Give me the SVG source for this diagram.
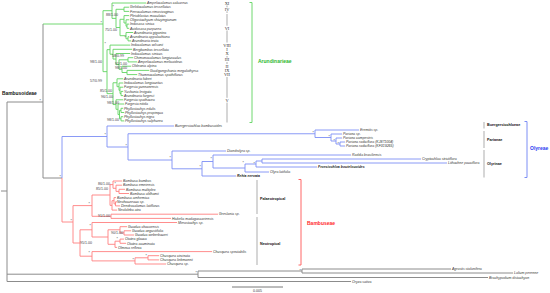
<svg xmlns="http://www.w3.org/2000/svg" width="550" height="293" viewBox="0 0 550 293">
<style>
.tx{font-family:"Liberation Sans",Arial,sans-serif;font-size:3.5px;font-style:italic;fill:#333}
.txb{font-family:"Liberation Sans",Arial,sans-serif;font-size:3.5px;font-style:italic;font-weight:bold;fill:#222}
.sp{font-family:"Liberation Sans",Arial,sans-serif;font-size:3.6px;fill:#444;text-anchor:end}
.rn{font-family:"Liberation Serif","Times New Roman",serif;font-size:4.4px;fill:#333;text-anchor:middle}
.lb{font-family:"Liberation Sans",Arial,sans-serif;font-weight:bold;font-size:3.7px;fill:#111}
.tribe{font-family:"Liberation Sans",Arial,sans-serif;font-weight:bold;font-size:5px}
.g{stroke:#62d462;fill:none;stroke-width:0.9}
.b{stroke:#7d8ef5;fill:none;stroke-width:0.9}
.r{stroke:#ff8080;fill:none;stroke-width:0.9}
.k{stroke:#8c8c8c;fill:none;stroke-width:1}
.bar{stroke:#8a8a8a;fill:none;stroke-width:0.7}
</style>
<rect width="550" height="293" fill="#fff"/>
<g id="connectors">
<path class="k" d="M1,191H7M7,102V281.5M7,102H43M43,24V178M43,178H62M7,274.2H198M198,271V277.5M198,271H302M302,269V273M302,269H451M302,273H513M198,277.5H488M7,281.5H351"/>
<path class="g" d="M43,24H103M103,10.7V71.65M103,10.7H112M112,3V18.4M112,3H146.2M112,18.4H116M116,9.3V27.5M116,9.3H124M124,7.2V11.4M124,7.2H129.2M124,11.4H129.2M116,27.5H120M120,19.3V35.7M120,19.3H124M124,15.6V23M124,15.6H129.2M124,23H126M126,19.8V26.2M126,19.8H129.2M126,26.2H127M127,24.1V28.3M127,24.1H129.2M127,28.3H129.2M120,35.7H126M126,32.5V38.8M126,32.5H133.2M126,38.8H128M128,36.7V40.9M128,36.7H129.2M128,40.9H131.2M103,71.65H107M107,49.65V93.65M107,49.65H110M110,45.1V54.2M110,45.1H130.2M110,54.2H113M113,49.3V59.05M113,49.3H132.2M113,59.05H116M116,53.5V64.6M116,53.5H130.2M116,64.6H119M119,59.8V69.35M119,59.8H128M128,57.7V61.9M128,57.7H133.2M128,61.9H137.2M119,69.35H122M122,66.2V72.5M122,66.2H131.2M122,72.5H127M127,70.4V74.6M127,70.4H149.2M127,74.6H137.2M107,93.65H113M113,82.75V104.55M113,82.75H117M117,78.8V86.7M117,78.8H123.2M117,86.7H119M119,83V90.35M119,83H123.2M119,90.35H120M120,87.2V93.5M120,87.2H123.2M120,93.5H121M121,91.4V95.6M121,91.4H123.2M121,95.6H123.2M113,104.55H116M116,99.8V109.3M116,99.8H123.2M116,109.3H118M118,104V114.6M118,104H124.2M118,114.6H119.5M119.5,110.4V118.8M119.5,110.4H121M121,108.3V112.5M121,108.3H123.2M121,112.5H124.2M119.5,118.8H121M121,116.7V120.9M121,116.7H123.2M121,120.9H124.2"/>
<path class="b" d="M62,136.5V178M62,136.5H107M107,126V147M107,126H174M107,147H128M128,133.75V160M128,133.75H315M315,130V137.5M315,130H359M315,137.5H331M331,134V141M331,134H342M331,141H336M336,138V144M336,138H342M336,144H340M340,142V146M340,142H345M340,146H345M128,160H172M172,151V168.8M172,151H226M172,168.8H202M202,161.5V176M202,176H236M202,161.5H213M213,155V168M213,155H351M213,168H245M245,164V172M245,172H269M245,164H256M256,161V167M256,167H317M256,161H262M262,159V163M262,159H421M262,163H447"/>
<path class="r" d="M62,178V222M62,222H73M73,205.6V243M73,205.6H92M92,195V216.3M92,195H110M110,184.6V205.4M110,184.6H113M113,181V188.3M113,181H122M113,188.3H116M116,185.2V191.4M116,185.2H122M116,191.4H119M119,189.3V193.5M119,189.3H125M119,193.5H129M110,205.4H112M112,200.7V210.1M112,210.1H117M112,200.7H114M114,197.6V203.9M114,197.6H116M114,203.9H115.5M115.5,201.8V205.9M115.5,201.8H117M115.5,205.9H120M92,216.3H111M111,214.2V218.4M111,214.2H218M111,218.4H171M73,243H80M80,229.8V256.2M80,229.8H92M92,222.5V237M92,222.5H177M92,237H108M108,229.8V244.3M108,229.8H120M120,226.7V232.9M120,226.7H127M120,232.9H124M124,230.8V235M124,230.8H131M124,235H134M108,244.3H115M115,241.2V247.4M115,247.4H117M115,241.2H120M120,239.1V243.3M120,239.1H124M120,243.3H126M80,256.2H92M92,251.6V260.9M92,251.6H212M92,260.9H135M135,257.8V264M135,264H166M135,257.8H148M148,255.7V259.9M148,255.7H159M148,259.9H159"/>
<path class="bar" d="M227,5.5V7.3M227,11.3V13M227,14V25.7M227,30.5V42.5M227,56V57.6M227,62V64M227,77V97.8M227,102.6V122.5M484,122V128.5M484,131V148M484,150V177.5M257,180V214M257,217V265"/>
<path stroke="#6fd86f" fill="none" stroke-width="1" d="M249.5,2.5H252V122.5H249.5"/>
<path stroke="#7d8ef5" fill="none" stroke-width="1" d="M524.5,121.5H527V177.5H524.5"/>
<path stroke="#ff6666" fill="none" stroke-width="1" d="M298.5,179.5H301V265H298.5"/>
<path stroke="#555" fill="none" stroke-width="0.8" d="M232,287H283"/>
</g>
<g id="supports">
<text class="sp" x="41" y="101.5">*</text>
<text class="sp" x="102" y="23.5">*</text>
<text class="sp" x="114" y="7.5">*</text>
<text class="sp" x="118" y="16.2">88/1.00</text>
<text class="sp" x="117" y="31.2">75/1.00</text>
<text class="sp" x="126" y="38.5">*</text>
<text class="sp" x="106" y="44.5">*</text>
<text class="sp" x="124" y="57.2">58/0.99</text>
<text class="sp" x="102" y="63.2">98/1.00</text>
<text class="sp" x="127" y="65.2">91/1.00</text>
<text class="sp" x="127" y="69.2">98/1.00</text>
<text class="sp" x="102" y="82.2">57/0.99</text>
<text class="sp" x="112" y="92.2">85/1.00</text>
<text class="sp" x="113" y="98.2">96/1.00</text>
<text class="sp" x="119" y="104.2">98/1.00</text>
<text class="sp" x="119" y="121.2">98/1.00</text>
<text class="sp" x="106" y="135.5">*</text>
<text class="sp" x="127" y="146.5">*</text>
<text class="sp" x="171" y="158.5">*</text>
<text class="sp" x="314" y="133.5">*</text>
<text class="sp" x="330" y="137.5">*</text>
<text class="sp" x="335" y="141.5">*</text>
<text class="sp" x="339" y="144.5">*</text>
<text class="sp" x="212" y="159.5">*</text>
<text class="sp" x="201" y="167.5">*</text>
<text class="sp" x="244" y="163.5">*</text>
<text class="sp" x="255" y="164.5">*</text>
<text class="sp" x="61" y="178">*</text>
<text class="sp" x="72" y="222">*</text>
<text class="sp" x="90" y="204.5">*</text>
<text class="sp" x="110" y="185.2">86/1.00</text>
<text class="sp" x="108" y="190.2">85/1.00</text>
<text class="sp" x="116" y="184.5">*</text>
<text class="sp" x="110" y="217.2">91/1.00</text>
<text class="sp" x="91" y="226.5">*</text>
<text class="sp" x="123" y="234.2">90/1.00</text>
<text class="sp" x="118" y="239.5">*</text>
<text class="sp" x="92" y="244.2">95/1.00</text>
<text class="sp" x="90" y="253.5">*</text>
<text class="sp" x="134" y="260.5">*</text>
<text class="sp" x="147" y="256.5">*</text>
<text class="sp" x="197" y="274">*</text>
<text class="sp" x="301" y="271.5">*</text>
</g>
<g id="n-ampelocalamus-calcareus"><text class="tx" x="147" y="4.2">Ampelocalamus calcareus</text></g>
<g id="n-gelidocalamus"><text class="tx" x="130" y="8.4">Gelidocalamus tessellatus</text></g>
<g id="n-ferrocalamus"><text class="tx" x="130" y="12.6">Ferrocalamus rimosivaginus</text></g>
<g id="n-pleioblastus"><text class="tx" x="130" y="16.8">Pleioblastus maculatus</text></g>
<g id="n-oligostachyum"><text class="tx" x="130" y="21">Oligostachyum shiuyingianum</text></g>
<g id="n-indosasa"><text class="tx" x="130" y="25.3">Indosasa sinica</text></g>
<g id="n-acidosasa"><text class="tx" x="130" y="29.5">Acidosasa purpurea</text></g>
<g id="n-arundinaria-gigantea"><text class="tx" x="134" y="33.7">Arundinaria gigantea</text></g>
<g id="n-arundinaria-appalachiana"><text class="tx" x="130" y="37.9">Arundinaria appalachiana</text></g>
<g id="n-arundinaria-tecta"><text class="tx" x="132" y="42.1">Arundinaria tecta</text></g>
<g id="n-indocalamus-wilsonii"><text class="tx" x="131" y="46.3">Indocalamus wilsonii</text></g>
<g id="n-bergbambos"><text class="tx" x="133" y="50.5">Bergbambos tessellata</text></g>
<g id="n-indocalamus-sinicus"><text class="tx" x="131" y="54.7">Indocalamus sinicus</text></g>
<g id="n-chimonocalamus"><text class="tx" x="134" y="58.9">Chimonocalamus longiusculus</text></g>
<g id="n-ampelocalamus-melicoideus"><text class="tx" x="138" y="63.1">Ampelocalamus melicoideus</text></g>
<g id="n-oldeania"><text class="tx" x="132" y="67.4">Oldeania alpina</text></g>
<g id="n-gaoligongshania"><text class="tx" x="150" y="71.6">Gaoligongshania megalothyrsa</text></g>
<g id="n-thamnocalamus"><text class="tx" x="138" y="75.8">Thamnocalamus spathiflorus</text></g>
<g id="n-arundinaria-faberi"><text class="tx" x="124" y="80">Arundinaria faberi</text></g>
<g id="n-indocalamus-longiauritus"><text class="tx" x="124" y="84.2">Indocalamus longiauritus</text></g>
<g id="n-fargesia-yunnanensis"><text class="tx" x="124" y="88.4">Fargesia yunnanensis</text></g>
<g id="n-yushania"><text class="tx" x="124" y="92.6">Yushania levigata</text></g>
<g id="n-arundinaria-fargesii"><text class="tx" x="124" y="96.8">Arundinaria fargesii</text></g>
<g id="n-fargesia-spathacea"><text class="tx" x="124" y="101">Fargesia spathacea</text></g>
<g id="n-fargesia-nitida"><text class="tx" x="125" y="105.2">Fargesia nitida</text></g>
<g id="n-phyllostachys-edulis"><text class="tx" x="124" y="109.5">Phyllostachys edulis</text></g>
<g id="n-phyllostachys-propinqua"><text class="tx" x="125" y="113.7">Phyllostachys propinqua</text></g>
<g id="n-phyllostachys-nigra"><text class="tx" x="124" y="117.9">Phyllostachys nigra</text></g>
<g id="n-phyllostachys-sulphurea"><text class="tx" x="125" y="122.1">Phyllostachys sulphurea</text></g>
<g id="n-buergersiochloa"><text class="tx" x="175" y="127.2">Buergersiochloa bambusoides</text></g>
<g id="n-eremitis"><text class="tx" x="360" y="131.2">Eremitis sp.</text></g>
<g id="n-pariana-sp"><text class="tx" x="343" y="135.2">Pariana sp.</text></g>
<g id="n-pariana-campestris"><text class="tx" x="343" y="139.2">Pariana campestris</text></g>
<g id="n-pariana-radiciflora-1"><text class="tx" x="346" y="143.2">Pariana radiciflora (KJ871004)</text></g>
<g id="n-pariana-radiciflora-2"><text class="tx" x="346" y="147.2">Pariana radiciflora (KF319265)</text></g>
<g id="n-diandrolyra"><text class="tx" x="227" y="152.2">Diandrolyra sp.</text></g>
<g id="n-raddia"><text class="tx" x="352" y="156.2">Raddia brasiliensis</text></g>
<g id="n-cryptochloa"><text class="tx" x="422" y="160.2">Cryptochloa strictiflora</text></g>
<g id="n-lithachne"><text class="tx" x="448" y="164.2">Lithachne pauciflora</text></g>
<g id="n-froesiochloa"><text class="txb" x="318" y="168.2">Froesiochloa boutelouoides</text></g>
<g id="n-olyra"><text class="tx" x="270" y="173.2">Olyra latifolia</text></g>
<g id="n-rehia"><text class="txb" x="237" y="177.2">Rehia nervata</text></g>
<g id="n-bambusa-bambos"><text class="tx" x="123" y="182.2">Bambusa bambos</text></g>
<g id="n-bambusa-emeiensis"><text class="tx" x="123" y="186.4">Bambusa emeiensis</text></g>
<g id="n-bambusa-multiplex"><text class="tx" x="126" y="190.5">Bambusa multiplex</text></g>
<g id="n-bambusa-oldhamii"><text class="tx" x="130" y="194.7">Bambusa oldhamii</text></g>
<g id="n-bambusa-arnhemica"><text class="tx" x="117" y="198.8">Bambusa arnhemica</text></g>
<g id="n-neohouzeaua"><text class="tx" x="117" y="203">Neohouzeaua sp.</text></g>
<g id="n-dendrocalamus"><text class="tx" x="121" y="207.1">Dendrocalamus latiflorus</text></g>
<g id="n-neololeba"><text class="tx" x="118" y="211.3">Neololeba atra</text></g>
<g id="n-greslania"><text class="tx" x="219" y="215.4">Greslania sp.</text></g>
<g id="n-hickelia"><text class="tx" x="172" y="219.6">Hickelia madagascariensis</text></g>
<g id="n-merostachys"><text class="tx" x="178" y="223.7">Merostachys sp.</text></g>
<g id="n-guadua-chacoensis"><text class="tx" x="128" y="227.9">Guadua chacoensis</text></g>
<g id="n-guadua-angustifolia"><text class="tx" x="132" y="232">Guadua angustifolia</text></g>
<g id="n-guadua-weberbaueri"><text class="tx" x="135" y="236.2">Guadua weberbaueri</text></g>
<g id="n-otatea-glauca"><text class="tx" x="125" y="240.3">Otatea glauca</text></g>
<g id="n-otatea-acuminata"><text class="tx" x="127" y="244.5">Otatea acuminata</text></g>
<g id="n-olmeca"><text class="tx" x="118" y="248.6">Olmeca reflexa</text></g>
<g id="n-chusquea-spectabilis"><text class="tx" x="213" y="252.8">Chusquea spectabilis</text></g>
<g id="n-chusquea-circinata"><text class="tx" x="160" y="256.9">Chusquea circinata</text></g>
<g id="n-chusquea-liebmannii"><text class="tx" x="160" y="261.1">Chusquea liebmannii</text></g>
<g id="n-chusquea-sp"><text class="tx" x="167" y="265.2">Chusquea sp.</text></g>
<g id="n-agrostis"><text class="tx" x="452" y="270.2">Agrostis stolonifera</text></g>
<g id="n-lolium"><text class="tx" x="514" y="274.2">Lolium perenne</text></g>
<g id="n-brachypodium"><text class="tx" x="489" y="278.7">Brachypodium distachyon</text></g>
<g id="n-oryza"><text class="tx" x="352" y="282.7">Oryza sativa</text></g>
<g id="lineages">
<text class="rn" x="227" y="4.6">XI</text>
<text class="rn" x="227" y="10.9">IV</text>
<text class="rn" x="227" y="29.6">VI</text>
<text class="rn" x="227" y="46.7">VIII</text>
<text class="rn" x="227" y="50.9">I</text>
<text class="rn" x="227" y="55.1">X</text>
<text class="rn" x="227" y="61.4">III</text>
<text class="rn" x="227" y="67.8">II</text>
<text class="rn" x="227" y="72">IX</text>
<text class="rn" x="227" y="76.2">VII</text>
<text class="rn" x="227" y="101.6">V</text>
</g>
<g id="clade-labels">
<text class="tribe" x="2" y="94.7" fill="#111" style="font-size:4.9px">Bambusoideae</text>
<text class="tribe" x="258" y="62.8" fill="#2eb82e">Arundinarieae</text>
<text class="tribe" x="530" y="149.8" fill="#2a3cf0">Olyreae</text>
<text class="tribe" x="307" y="224.8" fill="#ff2a2a">Bambuseae</text>
<text class="lb" x="487" y="126.3">Buergersiochloeae</text>
<text class="lb" x="487" y="140.8">Parianae</text>
<text class="lb" x="487" y="165.3">Olyrinae</text>
<text class="lb" x="260" y="200.3">Palaeotropical</text>
<text class="lb" x="260" y="245.3">Neotropical</text>
<text x="257.5" y="292" text-anchor="middle" style="font-family:'Liberation Sans',Arial,sans-serif;font-size:3.5px;fill:#333">0.005</text>
</g>
</svg>
